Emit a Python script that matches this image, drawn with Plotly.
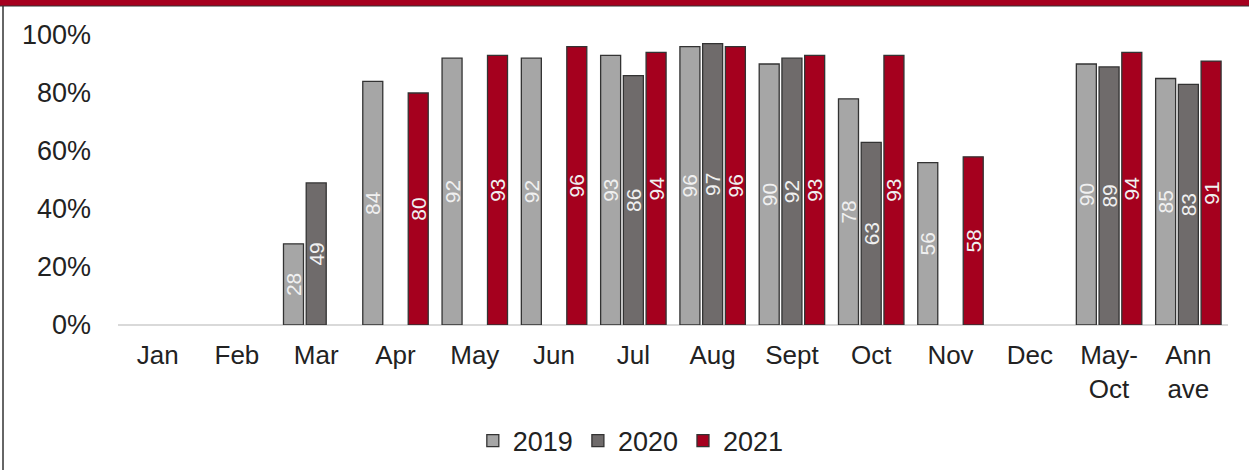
import plotly.graph_objects as go

categories = ["Jan", "Feb", "Mar", "Apr", "May", "Jun", "Jul", "Aug", "Sept", "Oct", "Nov", "Dec", "May-<br>Oct", "Ann<br>ave"]
y2019 = [None, None, 28, 84, 92, 92, 93, 96, 90, 78, 56, None, 90, 85]
y2020 = [None, None, 49, None, None, None, 86, 97, 92, 63, None, None, 89, 83]
y2021 = [None, None, None, 80, 93, 96, 94, 96, 93, 93, 58, None, 94, 91]
series = [("2019", y2019, "#A6A6A6"), ("2020", y2020, "#6F6B6B"), ("2021", y2021, "#A5001E")]

FONT = "Liberation Sans, Arial, sans-serif"
fig = go.Figure()
for name, vals, col in series:
    fig.add_trace(go.Bar(
        x=categories, y=vals, name=name,
        marker=dict(color=col, line=dict(color="#333333", width=1.3)),
        text=[str(v) if v is not None else "" for v in vals],
        textposition="inside", insidetextanchor="middle", textangle=-90,
        constraintext="none",
        textfont=dict(color="#F0F0F0", size=21, family=FONT),
    ))

fig.update_layout(
    width=1249, height=470,
    margin=dict(l=118, r=21, t=35, b=145, autoexpand=False),
    paper_bgcolor="white", plot_bgcolor="white",
    barmode="group", bargap=0.14, bargroupgap=0.12,
    font=dict(family=FONT, size=26, color="#222222"),
    showlegend=True,
    legend=dict(orientation="h", x=0.462, xanchor="center", y=-0.40, yanchor="middle",
                font=dict(size=27), itemwidth=30, traceorder="normal"),
    xaxis=dict(showgrid=False, showline=False, ticks="", tickfont=dict(size=26),
               ticklabelstandoff=12, automargin=False),
    yaxis=dict(range=[0, 100], tickvals=[0, 20, 40, 60, 80, 100],
               ticktext=["0%", "20%", "40%", "60%", "80%", "100%"],
               showgrid=False, zeroline=True, zerolinecolor="#D9D9D9", zerolinewidth=2,
               showline=False, ticks="", ticklabelstandoff=26, tickfont=dict(size=27),
               automargin=False),
    shapes=[
        dict(type="rect", xref="paper", yref="paper", x0=-0.2, x1=1.1, y0=1.1, y1=1.2,
             fillcolor="#A5001E", line=dict(width=0), layer="above"),
        dict(type="line", xref="paper", yref="paper", x0=-0.1036, x1=-0.1036, y0=-0.6, y1=1.1,
             line=dict(color="#333333", width=1.5)),
        dict(type="line", xref="paper", yref="paper", x0=-0.2, x1=1.1, y0=1.1, y1=1.1,
             line=dict(color="#333333", width=1)),
    ],
)
fig.write_html("out.html", config={"displayModeBar": False},
               post_script="document.body.style.margin='0';")
